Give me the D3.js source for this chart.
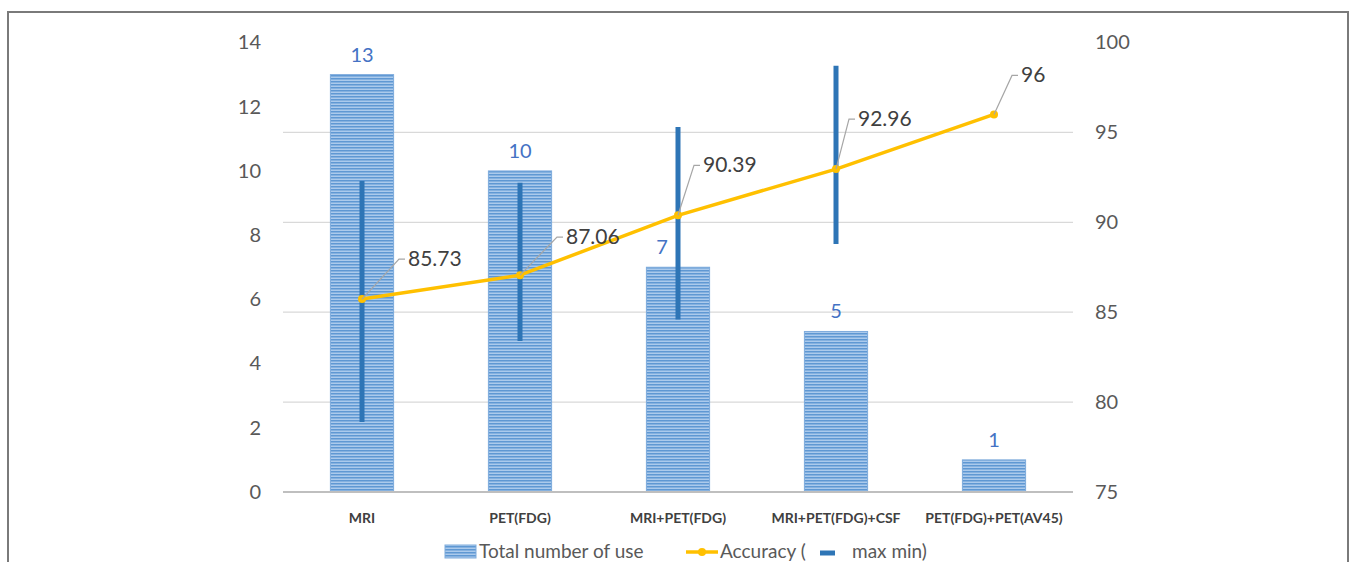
<!DOCTYPE html>
<html>
<head>
<meta charset="utf-8">
<script src="https://cdn.jsdelivr.net/npm/d3@7"></script>
<style>
  body { margin: 0; background: #fff; }
  svg { display: block; font-family: Lato, "Open Sans", sans-serif; }
</style>
</head>
<body>
<div id="chart"></div>
<script>
// Data
const categories = ["MRI", "PET(FDG)", "MRI+PET(FDG)", "MRI+PET(FDG)+CSF", "PET(FDG)+PET(AV45)"];
const totalUse = [13, 10, 7, 5, 1];
const accuracy = [85.73, 87.06, 90.39, 92.96, 96];
const accMax = [92.3, 92.2, 95.3, 98.7, null];
const accMin = [78.9, 83.4, 84.6, 88.8, null];
const leftTicks = [0, 2, 4, 6, 8, 10, 12, 14];
const rightTicks = [75, 80, 85, 90, 95, 100];

// label offsets (px) for accuracy labels, relative to the point
const labelOffsets = [[46, -40], [46, -38], [25, -50], [22, -50], [27, -39]];
// horizontal nudge of bar value labels
const barLabelShift = [0, 0, -16, 0, 0];

const W = 1357, H = 562;
const plot = {left: 283, right: 1073, top: 42.5, bottom: 492};

const svg = d3.select("#chart").append("svg")
    .attr("width", W)
    .attr("height", H);

// stripe pattern for bars
const defs = svg.append("defs");
const pat = defs.append("pattern")
    .attr("id", "stripes")
    .attr("width", 6)
    .attr("height", 3)
    .attr("patternUnits", "userSpaceOnUse");
pat.append("rect").attr("width", 6).attr("height", 3).attr("fill", "#abcaec");
pat.append("rect").attr("width", 6).attr("height", 1.5).attr("fill", "#5f98d3");

// outer frame
svg.append("rect")
    .attr("x", 8)
    .attr("y", 12)
    .attr("width", 1340)
    .attr("height", 600)
    .attr("fill", "none")
    .attr("stroke", "#7a7a7a")
    .attr("stroke-width", 2);

// Scales
const x = d3.scaleBand()
    .domain(categories)
    .range([plot.left, plot.right])
    .paddingInner(0.6)
    .paddingOuter(0.3);
const cx = d => x(d) + x.bandwidth() / 2;

const yLeft = d3.scaleLinear().domain([0, 14]).range([plot.bottom, plot.top]);
const yRight = d3.scaleLinear().domain([75, 100]).range([plot.bottom, plot.top]);

// Gridlines (right axis)
svg.append("g")
    .selectAll("line")
    .data(rightTicks.filter(t => t > 75 && t < 100))
    .enter().append("line")
    .attr("x1", plot.left)
    .attr("x2", plot.right)
    .attr("y1", d => yRight(d))
    .attr("y2", d => yRight(d))
    .attr("stroke", "#d9d9d9")
    .attr("stroke-width", 1.2);

// Left axis
const leftAxis = svg.append("g")
    .attr("transform", `translate(${plot.left - 22},0)`)
    .call(d3.axisLeft(yLeft).tickValues(leftTicks).tickSize(0).tickPadding(0));
leftAxis.select(".domain").remove();
leftAxis.selectAll("text")
    .attr("fill", "#595959")
    .style("font-size", "20px")
    .style("font-family", "Lato, sans-serif");

// Right axis
const rightAxis = svg.append("g")
    .attr("transform", `translate(${plot.right + 22},0)`)
    .call(d3.axisRight(yRight).tickValues(rightTicks).tickSize(0).tickPadding(0));
rightAxis.select(".domain").remove();
rightAxis.selectAll("text")
    .attr("fill", "#595959")
    .style("font-size", "20px")
    .style("font-family", "Lato, sans-serif");

// Bars
svg.append("g")
    .selectAll("rect")
    .data(categories)
    .enter().append("rect")
    .attr("x", d => x(d))
    .attr("y", (d, i) => yLeft(totalUse[i]))
    .attr("width", x.bandwidth())
    .attr("height", (d, i) => yLeft(0) - yLeft(totalUse[i]))
    .attr("fill", "url(#stripes)")
    .attr("stroke", "#7eabdc")
    .attr("stroke-width", 1);

// Bar labels
svg.append("g")
    .selectAll("text")
    .data(categories)
    .enter().append("text")
    .attr("x", (d, i) => cx(d) + barLabelShift[i])
    .attr("y", (d, i) => yLeft(totalUse[i]) - 13)
    .attr("text-anchor", "middle")
    .attr("fill", "#4472c4")
    .style("font-size", "20px")
    .text((d, i) => totalUse[i]);

// Baseline
svg.append("line")
    .attr("x1", plot.left)
    .attr("x2", plot.right)
    .attr("y1", plot.bottom)
    .attr("y2", plot.bottom)
    .attr("stroke", "#bfbfbf")
    .attr("stroke-width", 2);

// X labels
svg.append("g")
    .selectAll("text")
    .data(categories)
    .enter().append("text")
    .attr("x", d => cx(d))
    .attr("y", 523)
    .attr("text-anchor", "middle")
    .attr("fill", "#404040")
    .style("font-size", "14px")
    .style("font-weight", "bold")
    .text(d => d);

// Max-min lines
svg.append("g")
    .selectAll("line")
    .data(categories.filter((d, i) => accMax[i] != null))
    .enter().append("line")
    .attr("x1", d => cx(d))
    .attr("x2", d => cx(d))
    .attr("y1", d => yRight(accMax[categories.indexOf(d)]))
    .attr("y2", d => yRight(accMin[categories.indexOf(d)]))
    .attr("stroke", "#2e75b6")
    .attr("stroke-width", 5);

// Accuracy line
const line = d3.line()
    .x((d, i) => cx(categories[i]))
    .y(d => yRight(d));

svg.append("path")
    .datum(accuracy)
    .attr("d", line)
    .attr("fill", "none")
    .attr("stroke", "#ffc000")
    .attr("stroke-width", 3.5);

svg.append("g")
    .selectAll("circle")
    .data(accuracy)
    .enter().append("circle")
    .attr("cx", (d, i) => cx(categories[i]))
    .attr("cy", d => yRight(d))
    .attr("r", 4)
    .attr("fill", "#ffc000");

// Accuracy labels with leader lines
accuracy.forEach((v, i) => {
    const px = cx(categories[i]), py = yRight(v);
    const [dx, dy] = labelOffsets[i];
    svg.append("polyline")
        .attr("points", `${px},${py} ${px + dx - 9},${py + dy} ${px + dx - 3},${py + dy}`)
        .attr("fill", "none")
        .attr("stroke", "#a6a6a6")
        .attr("stroke-width", 1.2);
    svg.append("text")
        .attr("x", px + dx)
        .attr("y", py + dy + 7)
        .attr("fill", "#404040")
        .style("font-size", "21px")
        .text(v);
});

// Legend
const legend = svg.append("g");
legend.append("rect")
    .attr("x", 445)
    .attr("y", 545)
    .attr("width", 31)
    .attr("height", 13)
    .attr("fill", "url(#stripes)")
    .attr("stroke", "#7eabdc");
legend.append("text")
    .attr("x", 479)
    .attr("y", 558)
    .attr("fill", "#595959")
    .style("font-size", "19px")
    .text("Total number of use");

legend.append("line")
    .attr("x1", 686).attr("x2", 718)
    .attr("y1", 552).attr("y2", 552)
    .attr("stroke", "#ffc000")
    .attr("stroke-width", 3.5);
legend.append("circle")
    .attr("cx", 702).attr("cy", 552).attr("r", 4)
    .attr("fill", "#ffc000");
legend.append("text")
    .attr("x", 720)
    .attr("y", 558)
    .attr("fill", "#595959")
    .style("font-size", "19px")
    .text("Accuracy (");

legend.append("line")
    .attr("x1", 820).attr("x2", 835)
    .attr("y1", 553).attr("y2", 553)
    .attr("stroke", "#2e75b6")
    .attr("stroke-width", 5);
legend.append("text")
    .attr("x", 852)
    .attr("y", 558)
    .attr("fill", "#595959")
    .style("font-size", "19px")
    .text("max min)");
</script>
</body>
</html>
